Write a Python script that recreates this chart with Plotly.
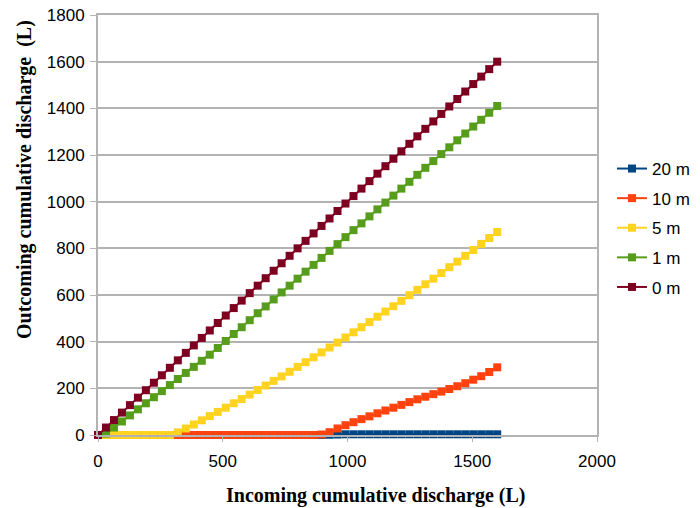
import plotly.graph_objects as go

incoming = [0, 32, 64, 96, 128, 160, 192, 224, 256, 288, 320, 352, 384, 416, 448, 480, 512,
            544, 576, 608, 640, 672, 704, 736, 768, 800, 832, 864, 896, 928, 960, 992, 1024,
            1056, 1088, 1120, 1152, 1184, 1216, 1248, 1280, 1312, 1344, 1376, 1408, 1440,
            1472, 1504, 1536, 1568, 1600]

out_20m = [0, 0, 0, 0, 0, 0, 0, 0, 0, 0, 0, 0, 0, 0, 0, 0, 0, 0, 0, 0, 0, 0, 0, 0, 0, 0, 0, 0, 0,
           1, 2, 3, 3, 3, 3, 3, 3, 3, 3, 3, 3, 3, 3, 3, 3, 3, 3, 3, 3, 3, 3]

out_10m = [0, 0, 0, 0, 0, 0, 0, 0, 0, 0, 0, 0, 0, 0, 0, 0, 0, 0, 0, 0, 0, 0, 0, 0, 0, 0, 0, 0,
           2, 12, 28, 42, 55, 68, 80, 93, 105, 117, 129, 141, 153, 164, 175, 186, 197, 209,
           222, 237, 252, 270, 290]

out_5m = [0, 0, 0, 0, 0, 0, 0, 0, 0, 0,
          11, 28, 45, 63, 81, 99, 117, 136, 154, 173, 193, 212, 232, 251, 271, 292, 312, 333,
          354, 375, 396, 418, 440, 462, 484, 507, 529, 552, 575, 599, 622, 646, 670, 694, 719,
          743, 768, 793, 819, 844, 870]

out_1m = [0, 6, 32, 58, 84, 110, 136, 162, 188, 214, 240, 266, 292, 318, 344, 373, 403, 433,
          462, 492, 522, 551, 581, 611, 640, 670, 700, 729, 759, 789, 818, 848, 878, 907, 937,
          967, 996, 1026, 1056, 1085, 1115, 1145, 1174, 1204, 1233, 1263, 1292, 1322, 1351,
          1381, 1410]

out_0m = [0, 32, 64, 96, 128, 160, 192, 224, 256, 288, 320, 352, 384, 416, 448, 480, 512,
          544, 576, 608, 640, 672, 704, 736, 768, 800, 832, 864, 896, 928, 960, 992, 1024,
          1056, 1088, 1120, 1152, 1184, 1216, 1248, 1280, 1312, 1344, 1376, 1408, 1440,
          1472, 1504, 1536, 1568, 1600]

series_names = ["20 m", "10 m", "5 m", "1 m", "0 m"]
series_values = [out_20m, out_10m, out_5m, out_1m, out_0m]
series_colors = ["#004586", "#ff420e", "#ffd320", "#579d1c", "#7e0021"]

x_ticks = [0, 500, 1000, 1500, 2000]
y_ticks = [0, 200, 400, 600, 800, 1000, 1200, 1400, 1600, 1800]

fig = go.Figure()
for name, vals, col in zip(series_names, series_values, series_colors):
    fig.add_trace(go.Scatter(
        x=incoming, y=vals, name=name, mode="lines+markers",
        line=dict(color=col, width=2),
        marker=dict(symbol="square", size=8, color=col),
        cliponaxis=False,
        legendgroup=name,
    ))

# page body has an 8px margin: figure is sized/offset so the plot lands where the reference has it
W, H = 684, 500
L, T, B = 90, 7, 73
pw = 499
R = W - L - pw
ph = H - T - B

grid = "#b3b3b3"
title_font = dict(family="Liberation Serif, Times New Roman, serif", size=20, color="black")
fig.update_layout(
    width=W, height=H,
    margin=dict(l=L, r=R, t=T, b=B, pad=0, autoexpand=False),
    paper_bgcolor="white", plot_bgcolor="white",
    font=dict(family="Liberation Sans, Arial, sans-serif", size=17, color="black"),
    showlegend=True,
    legend=dict(x=(604 - L) / pw, y=(427 - 220) / ph, xanchor="left", yanchor="middle",
                font=dict(size=17), traceorder="grouped", tracegroupgap=4.5,
                bgcolor="rgba(0,0,0,0)"),
    xaxis=dict(range=[0, 2000], tickvals=x_ticks, showgrid=False, zeroline=False,
               showline=True, linecolor=grid, linewidth=2, mirror=True, automargin=False,
               ticks="outside", ticklen=5, tickcolor=grid, tickwidth=1,
               ticklabelstandoff=5, ticklabeloverflow="allow"),
    yaxis=dict(range=[0, 1800], tickvals=y_ticks, showgrid=True, gridcolor=grid,
               gridwidth=1.5, zeroline=False, showline=True, linecolor=grid,
               linewidth=2, mirror=True, automargin=False, ticks="outside", ticklen=6,
               tickcolor=grid, tickwidth=1, ticklabelstandoff=2, ticklabeloverflow="allow"),
    annotations=[
        dict(text="<b>Incoming cumulative discharge (L)</b>", xref="paper", yref="paper",
             x=(367 - L) / pw, y=-(487 - 427) / ph, xanchor="center", yanchor="middle",
             showarrow=False, font=title_font),
        dict(text="<b>Outcoming cumulative discharge\u00a0 (L)</b>", xref="paper", yref="paper",
             x=-(L - 16) / pw, y=(427 - 172) / ph, xanchor="center", yanchor="middle",
             textangle=-90, showarrow=False, font=title_font),
    ],
)

fig.write_html("out.html")
